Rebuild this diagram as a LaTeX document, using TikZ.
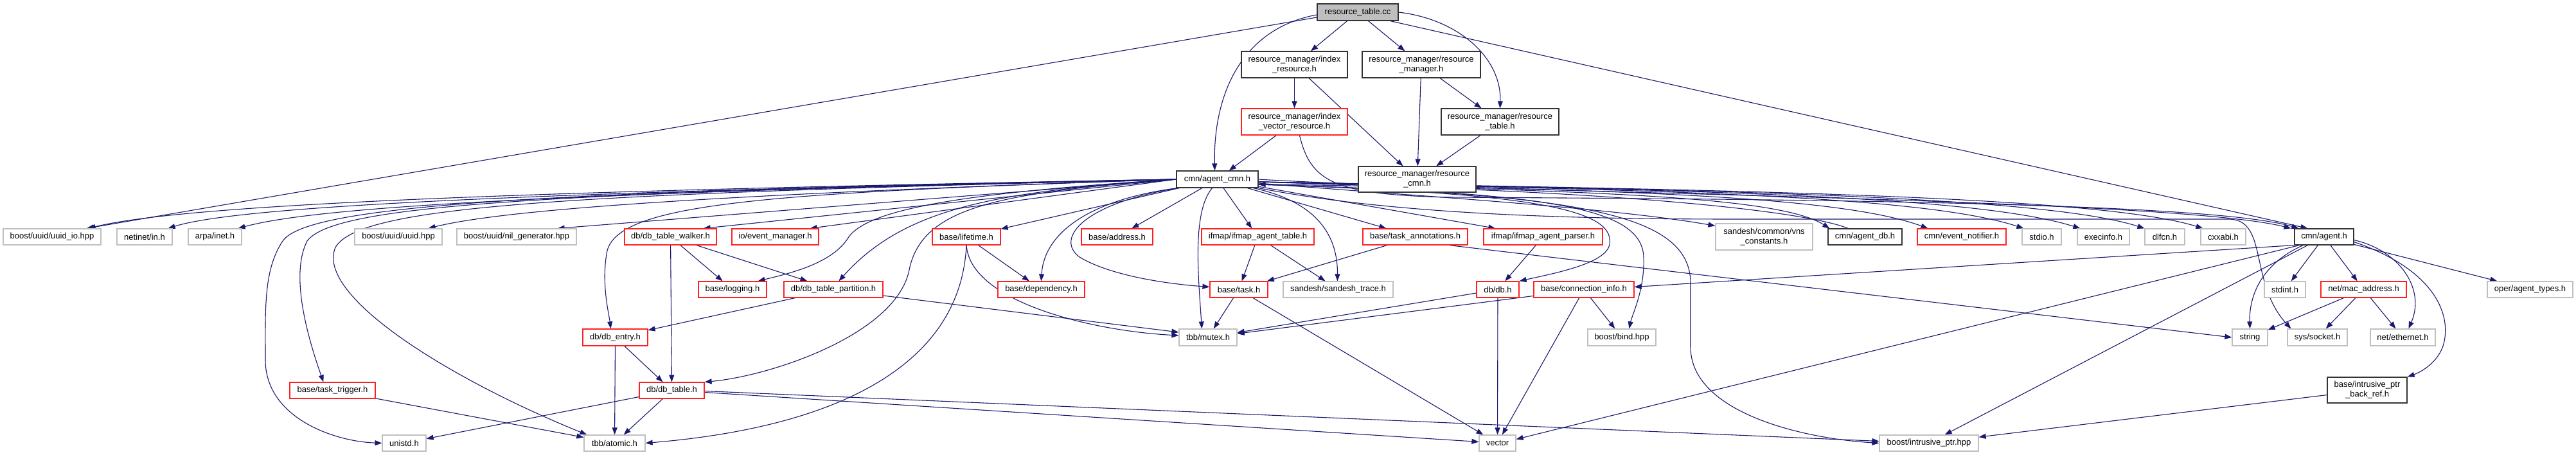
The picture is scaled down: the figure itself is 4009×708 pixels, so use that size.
\documentclass[tikz,border=0pt]{standalone}
\usepackage{fontspec}
\setmainfont{Liberation Sans}
\usetikzlibrary{arrows.meta}
\definecolor{edgec}{HTML}{191970}
\definecolor{grayb}{HTML}{BFBFBF}
\definecolor{redb}{HTML}{FF2020}
\definecolor{blackb}{HTML}{333333}
\pgfdeclarelayer{bg}
\pgfdeclarelayer{edges}
\pgfsetlayers{bg,edges,main}
\newcommand{\dxbox}[7]{\node[#1, minimum width={(#4-#3)*1pt}, minimum height={(#6-#5)*1pt}] (#2) at ({(#3+#4)/2},{(#5+#6)/2}) {#7};}
\tikzset{
 nb/.style={rectangle, inner sep=0pt, line width=1.2pt, align=center, fill=white, font=\fontsize{13}{15}\selectfont},
 gbox/.style={nb, draw=grayb},
 rbox/.style={nb, draw=redb},
 kbox/.style={nb, draw=blackb},
 rootbox/.style={nb, draw=blackb, fill=grayb},
 edg/.style={draw=edgec, line width=1.1pt, -{Triangle[length=11pt,width=8pt]}},
}
\begin{document}
\begin{tikzpicture}[x=1pt,y=-1pt]
\useasboundingbox (0,0) rectangle (4009,708);
\begin{pgfonlayer}{bg}
\fill[white] (0,0) rectangle (4009,708);
\end{pgfonlayer}
% top part
\dxbox{rootbox}{rt}{2050}{2176}{6}{32}{resource\_table.cc}
\dxbox{kbox}{ir}{1932}{2097}{80}{121}{resource\_manager/index\\\_resource.h}
\dxbox{kbox}{rm}{2120}{2304}{80}{121}{resource\_manager/resource\\\_manager.h}
\dxbox{rbox}{ivr}{1932}{2097}{169}{210}{resource\_manager/index\\\_vector\_resource.h}
\dxbox{kbox}{rtab}{2243}{2426}{169}{210}{resource\_manager/resource\\\_table.h}
\dxbox{kbox}{rcmn}{2114}{2297}{259}{299}{resource\_manager/resource\\\_cmn.h}
\dxbox{kbox}{acmn}{1831}{1958}{266}{292}{cmn/agent\_cmn.h}
% row 1
\dxbox{gbox}{uuidio}{5}{157}{356}{381}{boost/uuid/uuid\_io.hpp}
\dxbox{gbox}{netin}{182}{268}{356}{381}{netinet/in.h}
\dxbox{gbox}{arpa}{293}{376}{356}{381}{arpa/inet.h}
\dxbox{gbox}{uuid}{552}{688}{356}{381}{boost/uuid/uuid.hpp}
\dxbox{gbox}{nilgen}{711}{897}{356}{381}{boost/uuid/nil\_generator.hpp}
\dxbox{rbox}{walker}{972}{1115}{356}{381}{db/db\_table\_walker.h}
\dxbox{rbox}{evmgr}{1139}{1274}{356}{381}{io/event\_manager.h}
\dxbox{rbox}{lifetime}{1451}{1557}{356}{381}{base/lifetime.h}
\dxbox{rbox}{address}{1683}{1794}{356}{381}{base/address.h}
\dxbox{rbox}{iftable}{1870}{2045}{356}{381}{ifmap/ifmap\_agent\_table.h}
\dxbox{rbox}{taskann}{2121}{2284}{356}{381}{base/task\_annotations.h}
\dxbox{rbox}{ifparser}{2309}{2494}{356}{381}{ifmap/ifmap\_agent\_parser.h}
\dxbox{gbox}{vns}{2670}{2821}{348}{389}{sandesh/common/vns\\\_constants.h}
\dxbox{kbox}{agentdb}{2845}{2960}{356}{381}{cmn/agent\_db.h}
\dxbox{rbox}{evnotif}{2984}{3122}{356}{381}{cmn/event\_notifier.h}
\dxbox{gbox}{stdio}{3147}{3208}{356}{381}{stdio.h}
\dxbox{gbox}{execinfo}{3233}{3314}{356}{381}{execinfo.h}
\dxbox{gbox}{dlfcn}{3338}{3400}{356}{381}{dlfcn.h}
\dxbox{gbox}{cxxabi}{3425}{3495}{356}{381}{cxxabi.h}
\dxbox{kbox}{agent}{3571}{3663}{356}{381}{cmn/agent.h}
% row 2
\dxbox{rbox}{logging}{1087}{1193}{438}{463}{base/logging.h}
\dxbox{rbox}{partition}{1220}{1374}{438}{463}{db/db\_table\_partition.h}
\dxbox{rbox}{dependency}{1553}{1688}{438}{463}{base/dependency.h}
\dxbox{rbox}{task}{1883}{1973}{438}{463}{base/task.h}
\dxbox{gbox}{strace}{1997}{2168}{438}{463}{sandesh/sandesh\_trace.h}
\dxbox{rbox}{db}{2298}{2364}{438}{463}{db/db.h}
\dxbox{rbox}{conninfo}{2387}{2543}{438}{463}{base/connection\_info.h}
\dxbox{gbox}{stdint}{3524}{3588}{438}{463}{stdint.h}
\dxbox{rbox}{mac}{3612}{3745}{438}{463}{net/mac\_address.h}
\dxbox{gbox}{agenttypes}{3871}{4004}{438}{463}{oper/agent\_types.h}
% row 2.5
\dxbox{rbox}{dbentry}{907}{1008}{512}{538}{db/db\_entry.h}
\dxbox{gbox}{mutex}{1835}{1925}{512}{538}{tbb/mutex.h}
\dxbox{gbox}{bind}{2471}{2577}{512}{538}{boost/bind.hpp}
\dxbox{gbox}{string}{3474}{3529}{512}{538}{string}
\dxbox{gbox}{socket}{3560}{3653}{512}{538}{sys/socket.h}
\dxbox{gbox}{ethernet}{3689}{3790}{512}{538}{net/ethernet.h}
% row 3
\dxbox{rbox}{tasktrig}{451}{584}{595}{620}{base/task\_trigger.h}
\dxbox{rbox}{dbtable}{995}{1096}{595}{620}{db/db\_table.h}
\dxbox{kbox}{backref}{3622}{3746}{587}{627}{base/intrusive\_ptr\\\_back\_ref.h}
% row 4
\dxbox{gbox}{unistd}{595}{663}{677}{702}{unistd.h}
\dxbox{gbox}{atomic}{909}{1004}{677}{702}{tbb/atomic.h}
\dxbox{gbox}{vector}{2302}{2359}{677}{702}{vector}
\dxbox{gbox}{intrusive}{2925}{3079}{677}{702}{boost/intrusive\_ptr.hpp}

\begin{pgfonlayer}{edges}
% root
\draw[edg] ([yshift=-8pt]rt.west) -- ([xshift=-23pt]uuidio.north east);
\draw[edg] ([yshift=-4pt]rt.west) .. controls (1930,45) and (1888,150) .. ([xshift=-4pt]acmn.north);
\draw[edg] (rt) -- (ir);
\draw[edg] (rt) -- (rm);
\draw[edg] (rt.east) .. controls (2270,30) and (2337,90) .. (rtab.north);
\draw[edg] ([xshift=-13pt]rt.south east) -- ([xshift=21pt]agent.north west);
% resource manager
\draw[edg] (ir) -- (ivr);
\draw[edg] (ir) -- (rcmn);
\draw[edg] (rm) -- (rcmn);
\draw[edg] (rm) -- (rtab);
\draw[edg] (rtab) -- (rcmn);
\draw[edg] (ivr) -- (acmn);
\draw[edg] ([xshift=8pt]ivr.south) .. controls (2040,285) and (2080,302) .. (2250,307) .. controls (2900,310) and (3450,318) .. ([xshift=7pt]agent.north west);
% agent_cmn to the right
\draw[edg] (acmn.east) .. controls (2300,300) and (3380,308) .. ([xshift=-5pt]agent.north west);
\draw[edg] ([yshift=-4pt]acmn.east) .. controls (2400,298) and (2760,300) .. ([xshift=3pt]agentdb.north west);
\draw[edg] ([yshift=-4pt]acmn.east) .. controls (2450,296) and (2850,300) .. ([xshift=17pt]evnotif.north west);
\draw[edg] ([yshift=-4pt]acmn.east) .. controls (2500,295) and (2980,300) .. ([xshift=3pt]stdio.north west);
\draw[edg] ([yshift=-4pt]acmn.east) .. controls (2550,295) and (3060,300) .. ([xshift=5pt]execinfo.north west);
\draw[edg] ([yshift=-4pt]acmn.east) .. controls (2600,295) and (3170,302) .. (dlfcn.north west);
\draw[edg] ([yshift=-4pt]acmn.east) .. controls (2650,295) and (3260,303) .. ([xshift=4pt]cxxabi.north west);
\draw[edg] ([xshift=32pt]agentdb.north west) .. controls (2780,318) and (2350,290) .. ([yshift=-8pt]acmn.east);
\draw[edg] ([yshift=-6pt]acmn.east) .. controls (2200,305) and (2500,322) .. ([yshift=-4pt]vns.north west);
\draw[edg] (acmn.south east) .. controls (2150,330) and (2400,341) .. (2700,341) -- (3470,341) .. controls (3530,343) and (3500,440) .. ([xshift=6pt]socket.north west);
\draw[edg] ([yshift=-8pt]acmn.east) .. controls (2350,300) and (2515,320) .. (2505,380) .. controls (2500,410) and (2420,425) .. (db.north east);
\draw[edg] ([yshift=-8pt]acmn.east) .. controls (2400,300) and (2555,320) .. (2558,400) .. controls (2560,450) and (2540,490) .. ([xshift=65pt]bind.north west);
\draw[edg] ([yshift=-8pt]acmn.east) .. controls (2450,302) and (2630,330) .. (2631,440) -- (2631,540) .. controls (2631,640) and (2800,682) .. (intrusive.west);
\draw[edg] ([xshift=-8pt]acmn.south east) .. controls (2030,310) and (2082,350) .. ([xshift=85pt]strace.north west);
\draw[edg] (acmn) -- (taskann);
\draw[edg] (acmn) -- (ifparser);
\draw[edg] (acmn) -- (iftable);
\draw[edg] ([xshift=-8pt]acmn.south) .. controls (1855,330) and (1865,430) .. ([xshift=36pt]mutex.north west);
\draw[edg] ([xshift=4pt]acmn.south west) .. controls (1690,315) and (1640,370) .. (1680,400) .. controls (1730,430) and (1820,442) .. ([yshift=4pt]task.west);
\draw[edg] ([xshift=2pt]acmn.south west) .. controls (1700,310) and (1625,360) .. ([xshift=68pt]dependency.north west);
\draw[edg] (acmn) -- (address);
\draw[edg] (acmn) -- (lifetime);
% agent_cmn to the left
\draw[edg] (acmn.west) -- ([xshift=-14pt]evmgr.north east);
\draw[edg] (acmn.west) -- ([xshift=-21pt]walker.north east);
\draw[edg] (acmn.west) .. controls (1500,300) and (1350,325) .. (1320,370) .. controls (1295,410) and (1230,425) .. ([xshift=-14pt]logging.north east);
\draw[edg] (acmn.west) .. controls (1560,298) and (1410,320) .. ([xshift=86pt]partition.north west);
\draw[edg] (acmn.west) .. controls (1560,300) and (1435,320) .. (1415,420) .. controls (1395,520) and (1200,585) .. (dbtable.north east);
\draw[edg] (acmn.west) .. controls (1200,300) and (965,315) .. (945,390) .. controls (935,440) and (948,490) .. ([xshift=-7pt]dbentry.north);
\draw[edg] (acmn.west) .. controls (900,296) and (300,315) .. ([xshift=-20pt]uuidio.north east);
\draw[edg] (acmn.west) .. controls (900,298) and (380,318) .. ([xshift=-7pt]netin.north east);
\draw[edg] (acmn.west) .. controls (900,300) and (500,320) .. ([xshift=-6pt]arpa.north east);
\draw[edg] (acmn.west) .. controls (1200,300) and (800,322) .. ([xshift=-22pt]uuid.north east);
\draw[edg] (acmn.west) -- ([xshift=-30pt]nilgen.north east);
\draw[edg] (acmn.west) .. controls (850,298) and (480,318) .. (440,375) .. controls (410,420) and (413,480) .. (413,560) .. controls (413,650) and (520,687) .. (unistd.west);
\draw[edg] (acmn.west) .. controls (850,300) and (520,318) .. (478,375) .. controls (455,420) and (470,500) .. ([xshift=53pt]tasktrig.north west);
\draw[edg] (acmn.west) .. controls (900,302) and (560,318) .. (522,385) .. controls (490,460) and (700,590) .. ([xshift=5pt]atomic.north west);
% second level
\draw[edg] (walker) -- (logging);
\draw[edg] (walker) -- (partition);
\draw[edg] (walker) -- (dbtable);
\draw[edg] (partition) -- (dbentry);
\draw[edg] (partition) -- ([yshift=8pt]mutex.west);
\draw[edg] (lifetime.south) .. controls (1510,470) and (1700,515) .. ([yshift=3pt]mutex.west);
\draw[edg] (lifetime) -- (dependency);
\draw[edg] (lifetime.south) .. controls (1495,570) and (1300,665) .. (atomic.east);
\draw[edg] (iftable) -- (task);
\draw[edg] (iftable) -- (strace);
\draw[edg] (taskann) -- (task);
\draw[edg] ([xshift=-29pt]taskann.south east) -- (string.west);
\draw[edg] (task) -- (mutex);
\draw[edg] (task) -- (vector);
\draw[edg] (ifparser) -- (db);
\draw[edg] (db) -- (mutex);
\draw[edg] (db) -- (vector);
\draw[edg] (conninfo) -- (mutex);
\draw[edg] (conninfo) -- (vector);
\draw[edg] (conninfo) -- (bind);
\draw[edg] (dbentry) -- (atomic);
\draw[edg] (dbentry) -- (dbtable);
\draw[edg] (dbtable) -- (unistd);
\draw[edg] (dbtable) -- (atomic);
\draw[edg] ([yshift=-3pt]dbtable.east) -- ([yshift=2pt]vector.west);
\draw[edg] ([yshift=-1pt]dbtable.east) -- ([yshift=3pt]intrusive.west);
\draw[edg] (tasktrig) -- (atomic);
% agent.h
\draw[edg] (agent.south west) -- ([yshift=4pt]conninfo.east);
\draw[edg] ([xshift=8pt]agent.south west) -- ([yshift=6pt]vector.east);
\draw[edg] ([xshift=21pt]agent.south west) -- ([xshift=-53pt]intrusive.north east);
\draw[edg] ([xshift=14pt]agent.south west) .. controls (3520,410) and (3500,460) .. (string.north);
\draw[edg] (agent) -- (stdint);
\draw[edg] (agent) -- (mac);
\draw[edg] ([yshift=-5pt]agent.east) .. controls (3735,390) and (3775,450) .. ([xshift=60pt]ethernet.north west);
\draw[edg] ([yshift=-8pt]agent.east) .. controls (3790,420) and (3815,490) .. (3803,535) .. controls (3795,565) and (3765,580) .. (backref.north east);
\draw[edg] (agent) -- (agenttypes);
\draw[edg] (mac) -- (string);
\draw[edg] (mac) -- (socket);
\draw[edg] (mac) -- (ethernet);
\draw[edg] (backref) -- (intrusive);
\end{pgfonlayer}
\end{tikzpicture}
\end{document}
